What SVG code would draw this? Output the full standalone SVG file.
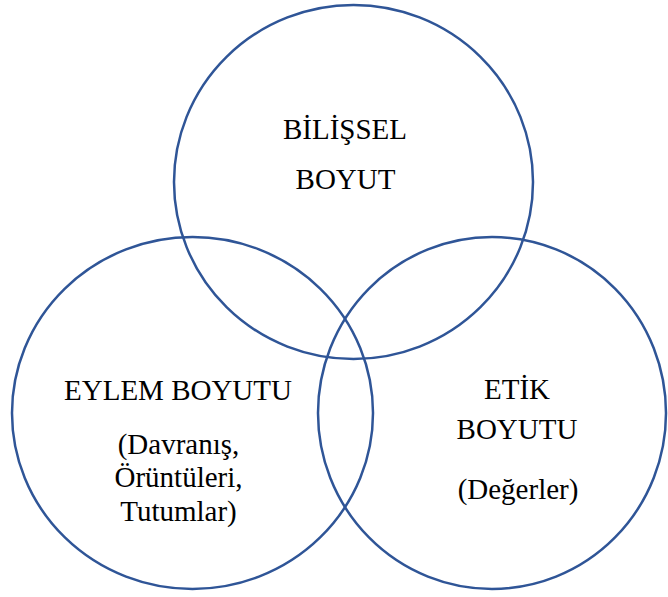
<svg xmlns="http://www.w3.org/2000/svg" width="668" height="597" viewBox="0 0 668 597">
<style>
.c{fill:none;stroke:#2F5597;stroke-width:2.5}
.t{font-family:"Liberation Serif","Times New Roman",serif;font-size:29px;fill:#000;text-anchor:middle}
</style>
<rect width="668" height="597" fill="#fff"/>
<g id="bilissel">
<ellipse class="c" cx="353.5" cy="182" rx="179.5" ry="177"/>
<text class="t" x="345" y="139">BİLİŞSEL</text>
<text class="t" x="345.5" y="189">BOYUT</text>
</g>
<g id="eylem">
<ellipse class="c" cx="192.5" cy="413" rx="180.5" ry="176"/>
<text class="t" x="178" y="400">EYLEM BOYUTU</text>
<text class="t" x="178.5" y="454">(Davranış,</text>
<text class="t" x="178.5" y="487">Örüntüleri,</text>
<text class="t" x="178.5" y="521">Tutumlar)</text>
</g>
<g id="etik">
<ellipse class="c" cx="492" cy="413" rx="174" ry="176"/>
<text class="t" x="517" y="399">ETİK</text>
<text class="t" x="517" y="439">BOYUTU</text>
<text class="t" x="518" y="499">(Değerler)</text>
</g>
<g id="connectors"/>
</svg>
